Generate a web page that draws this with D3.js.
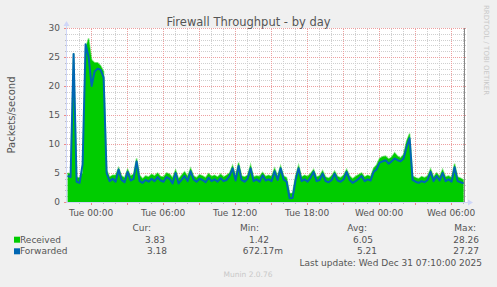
<!DOCTYPE html>
<html>
<head>
<meta charset="utf-8">
<script src="https://cdn.jsdelivr.net/npm/d3@7"></script>
<style>
  body { margin: 0; background: #f0f0f0; }
  svg { display: block; font-family: "DejaVu Sans", sans-serif; }
</style>
</head>
<body>
<div id="chart"></div>
<script>
// packets/second, one sample every 15 minutes
const received = [
  5.0, 4.8, 25.7, 4.3, 4.1, 5.0, 26.5, 28.2, 24.5, 24.0,
  24.0, 23.5, 22.5, 5.5, 4.3, 4.6, 4.6, 5.9, 4.5, 4.2,
  5.6, 4.5, 4.8, 7.5, 4.6, 4.0, 4.5, 4.3, 4.8, 4.5,
  5.0, 4.4, 4.3, 5.0, 4.8, 4.2, 5.5, 4.0, 4.6, 5.2,
  4.4, 5.8, 4.5, 4.2, 4.7, 4.5, 4.2, 4.9, 4.4, 4.6,
  4.3, 4.8, 4.3, 4.6, 5.0, 6.3, 4.5, 6.8, 4.5, 4.3,
  4.6, 6.4, 4.3, 4.5, 4.4, 5.1, 4.4, 4.6, 4.4, 5.8,
  4.5, 6.2, 4.5, 4.2, 1.45, 1.5, 4.5, 6.3, 4.3, 4.6,
  4.4, 4.9, 5.6, 4.3, 4.5, 5.4, 4.3, 4.1, 4.5, 5.3,
  4.4, 4.2, 4.6, 5.6, 4.5, 4.0, 4.4, 4.7, 5.0, 4.3,
  4.6, 4.4, 5.8, 6.4, 7.5, 7.8, 7.9, 7.4, 7.7, 8.5,
  7.9, 7.6, 8.2, 10.5, 11.8, 4.5, 4.2, 4.0, 4.4, 4.2,
  4.5, 5.7, 4.3, 5.0, 4.4, 5.6, 4.3, 4.5, 4.2, 6.6,
  4.3, 4.1, 3.8
];
const forwarded = [
  4.5, 4.3, 25.5, 3.5, 3.3, 6.5, 27.2, 25.0, 20.0, 22.5,
  23.0, 22.8, 21.5, 5.0, 3.6, 4.0, 3.5, 5.6, 3.8, 3.4,
  5.2, 3.7, 4.0, 7.0, 3.6, 3.3, 3.8, 3.5, 4.0, 3.6,
  4.3, 3.7, 3.5, 4.3, 4.0, 3.2, 5.0, 3.2, 3.8, 4.5,
  3.6, 5.3, 3.9, 3.5, 4.0, 3.8, 3.4, 4.2, 3.6, 3.9,
  3.5, 4.1, 3.6, 3.8, 4.5, 5.8, 3.7, 6.2, 3.8, 3.5,
  4.0, 5.8, 3.6, 3.9, 3.5, 4.6, 3.7, 3.9, 3.6, 5.3,
  3.8, 5.8, 3.9, 3.5, 0.65, 0.7, 3.8, 5.8, 3.6, 3.9,
  3.5, 4.2, 5.2, 3.6, 3.8, 4.9, 3.6, 3.4, 3.8, 4.9,
  3.7, 3.5, 3.9, 5.2, 3.8, 3.3, 3.6, 4.0, 4.5, 3.6,
  3.9, 3.7, 5.2, 5.6, 6.8, 7.0, 7.2, 6.6, 7.0, 7.5,
  7.2, 7.0, 7.5, 9.5, 11.0, 3.8, 3.5, 3.3, 3.6, 3.4,
  3.8, 5.2, 3.6, 4.5, 3.7, 5.0, 3.6, 3.9, 3.5, 6.0,
  3.6, 3.4, 3.2
];

const seriesNames = ["Received", "Forwarded"];
const seriesColors = ["#00cc00", "#0066b3"];
const statHeads = ["Cur:", "Min:", "Avg:", "Max:"];
const receivedStats = ["3.83", "1.42", "6.05", "28.26"];
const forwardedStats = ["3.18", "672.17m", "5.21", "27.27"];
const yTicks = [0, 5, 10, 15, 20, 25, 30];

const firstSample = new Date(2025, 11, 29, 22, 5);
const stepMinutes = 15;
const lastUpdate = new Date(2025, 11, 31, 7, 10);
const graphEnd = new Date(2025, 11, 31, 7, 22);
const graphStart = new Date(graphEnd.getTime() - 400 * 300 * 1000);

const W = 497, H = 287;
const plot = {left: 67, top: 28, width: 400, height: 174};
const txt = "#555";

const svg = d3.select("#chart").append("svg")
  .attr("width", W)
  .attr("height", H);

svg.append("rect").attr("width", W).attr("height", H).attr("fill", "#f0f0f0");

const x = d3.scaleTime()
  .domain([graphStart, graphEnd])
  .range([plot.left, plot.left + plot.width]);
const y = d3.scaleLinear()
  .domain([0, 30])
  .range([plot.top + plot.height, plot.top]);

const timeOf = i => new Date(firstSample.getTime() + i * stepMinutes * 60000);
const recvData = received.map((v, i) => ({t: timeOf(i), v}));
const fwdData = forwarded.map((v, i) => ({t: timeOf(i), v}));

// canvas
svg.append("rect")
  .attr("x", plot.left).attr("y", plot.top)
  .attr("width", plot.width).attr("height", plot.height)
  .attr("fill", "#fff");

// grid, minor then major
const grid = svg.append("g").attr("stroke-dasharray", "1,1").attr("stroke-width", 1);
const y0 = y(0), y1 = y(30);
grid.selectAll(".vmin")
  .data(d3.timeHour.every(1).range(graphStart, graphEnd))
  .join("line")
    .attr("x1", d => Math.round(x(d)) + 0.5).attr("x2", d => Math.round(x(d)) + 0.5)
    .attr("y1", y0).attr("y2", y1)
    .attr("stroke", "#cfcfcf");
grid.selectAll(".hmin")
  .data(y.ticks(30).filter(d => d % 5 !== 0))
  .join("line")
    .attr("x1", plot.left).attr("x2", plot.left + plot.width)
    .attr("y1", d => Math.round(y(d)) + 0.5).attr("y2", d => Math.round(y(d)) + 0.5)
    .attr("stroke", "#cfcfcf");
grid.selectAll(".vmaj")
  .data(d3.timeHour.every(3).range(graphStart, graphEnd))
  .join("line")
    .attr("x1", d => Math.round(x(d)) + 0.5).attr("x2", d => Math.round(x(d)) + 0.5)
    .attr("y1", y0).attr("y2", y1)
    .attr("stroke", "#eda0a0");
grid.selectAll(".hmaj")
  .data(yTicks.filter(d => d > 0))
  .join("line")
    .attr("x1", plot.left).attr("x2", plot.left + plot.width)
    .attr("y1", d => Math.round(y(d)) + 0.5).attr("y2", d => Math.round(y(d)) + 0.5)
    .attr("stroke", "#eda0a0");

// data
const area = d3.area()
  .x(d => x(d.t))
  .y0(y(0))
  .y1(d => y(d.v));
const line = d3.line()
  .x(d => x(d.t))
  .y(d => y(d.v));

svg.append("path")
  .datum(recvData)
  .attr("d", area)
  .attr("fill", seriesColors[0]);
svg.append("path")
  .datum(recvData)
  .attr("d", line)
  .attr("fill", "none")
  .attr("stroke", seriesColors[0])
  .attr("stroke-opacity", 0.45)
  .attr("stroke-width", 1.5);
svg.append("path")
  .datum(fwdData)
  .attr("d", line)
  .attr("fill", "none")
  .attr("stroke", seriesColors[1])
  .attr("stroke-width", 2)
  .attr("stroke-linejoin", "round");

// last update marker
svg.append("line")
  .attr("x1", Math.round(x(lastUpdate)) - 0.5).attr("x2", Math.round(x(lastUpdate)) - 0.5)
  .attr("y1", y1).attr("y2", y0)
  .attr("stroke", "#888");

// small ticks on the axes
const ticks = svg.append("g");
ticks.selectAll(".xt")
  .data(d3.timeHour.every(1).range(graphStart, graphEnd))
  .join("line")
    .attr("x1", d => Math.round(x(d)) + 0.5).attr("x2", d => Math.round(x(d)) + 0.5)
    .attr("y1", y0).attr("y2", d => y0 + (d.getHours() % 3 === 0 ? 3 : 2))
    .attr("stroke", d => d.getHours() % 3 === 0 ? "#e88" : "#bbb");
ticks.selectAll(".yt")
  .data(y.ticks(30))
  .join("line")
    .attr("x1", plot.left).attr("x2", d => plot.left - (d % 5 === 0 ? 3 : 2))
    .attr("y1", d => Math.round(y(d)) + 0.5).attr("y2", d => Math.round(y(d)) + 0.5)
    .attr("stroke", d => d % 5 === 0 ? "#e88" : "#bbb");

// axis lines with arrows
const axisCol = "#cfd6f8";
const ax = svg.append("g");
ax.append("line")
  .attr("x1", plot.left - 0.5).attr("x2", plot.left - 0.5)
  .attr("y1", y0 + 0.5).attr("y2", y1 - 3)
  .attr("stroke", axisCol);
ax.append("path")
  .attr("d", `M${plot.left - 3.5},${y1 - 2}L${plot.left - 0.5},${y1 - 7}L${plot.left + 2.5},${y1 - 2}Z`)
  .attr("fill", axisCol);
ax.append("line")
  .attr("x1", plot.left - 0.5).attr("x2", plot.left + plot.width + 3)
  .attr("y1", y0 + 0.5).attr("y2", y0 + 0.5)
  .attr("stroke", axisCol);
ax.append("path")
  .attr("d", `M${plot.left + plot.width + 1},${y0 - 2.5}L${plot.left + plot.width + 6},${y0 + 0.5}L${plot.left + plot.width + 1},${y0 + 3.5}Z`)
  .attr("fill", axisCol);

// tick labels
const yAxis = svg.append("g")
  .attr("transform", `translate(${plot.left},0)`)
  .call(d3.axisLeft(y).tickValues(yTicks).tickSize(0).tickPadding(7));
const xAxis = svg.append("g")
  .attr("transform", `translate(0,${y0})`)
  .call(d3.axisBottom(x)
    .ticks(d3.timeHour.every(6))
    .tickFormat(d3.timeFormat("%a %H:%M"))
    .tickSize(0).tickPadding(8));
[yAxis, xAxis].forEach(a => {
  a.select(".domain").remove();
  a.selectAll("text")
    .attr("fill", txt)
    .style("font-size", "9px")
    .style("font-family", "DejaVu Sans");
});

// title and labels
svg.append("text")
  .attr("x", 248.5).attr("y", 25.5)
  .attr("text-anchor", "middle")
  .attr("fill", txt)
  .style("font-size", "11.5px")
  .text("Firewall Throughput - by day");
svg.append("text")
  .attr("transform", `translate(15,${(y0 + y1) / 2}) rotate(-90)`)
  .attr("text-anchor", "middle")
  .attr("fill", txt)
  .style("font-size", "10px")
  .text("Packets/second");
svg.append("text")
  .attr("transform", "translate(484,5) rotate(90)")
  .attr("fill", "#c8c8c8")
  .style("font-size", "7px")
  .text("RRDTOOL / TOBI OETIKER");

// legend
const leg = svg.append("g").attr("fill", txt).style("font-size", "9px");
const headEnds = [151, 259, 367, 476];
leg.selectAll(".head")
  .data(statHeads)
  .join("text")
    .attr("x", (d, i) => headEnds[i]).attr("y", 230.5)
    .attr("text-anchor", "end")
    .text(d => d);

const rows = [
  {name: seriesNames[0], color: seriesColors[0], stats: receivedStats, y: 242.7, ends: [165, 269, 373, 479]},
  {name: seriesNames[1], color: seriesColors[1], stats: forwardedStats, y: 254.3, ends: [167, 283, 377, 479]}
];
rows.forEach(r => {
  leg.append("rect")
    .attr("x", 14).attr("y", r.y - 6)
    .attr("width", 6).attr("height", 6)
    .attr("fill", r.color);
  leg.append("text").attr("x", 20).attr("y", r.y).text(r.name);
  r.stats.forEach((s, i) => {
    leg.append("text")
      .attr("x", r.ends[i]).attr("y", r.y)
      .attr("text-anchor", "end")
      .text(s);
  });
});

leg.append("text")
  .attr("x", 482).attr("y", 266)
  .attr("text-anchor", "end")
  .text("Last update: " + d3.timeFormat("%a %b %d %H:%M:%S %Y")(lastUpdate));

svg.append("text")
  .attr("x", 248).attr("y", 277)
  .attr("text-anchor", "middle")
  .attr("fill", "#c8c8c8")
  .style("font-size", "7.5px")
  .text("Munin 2.0.76");
</script>
</body>
</html>
